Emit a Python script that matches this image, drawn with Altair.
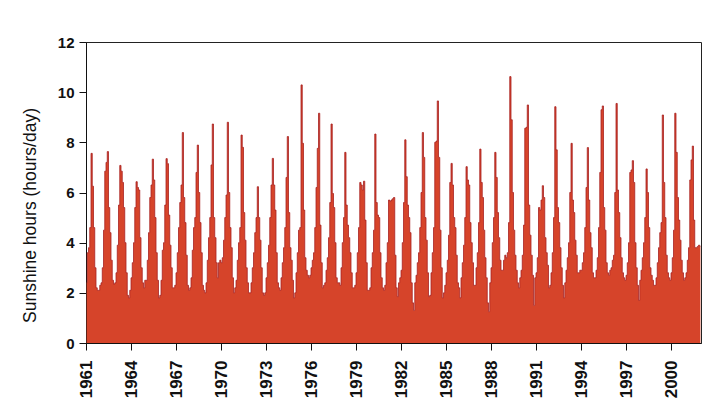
import altair as alt
import pandas as pd

# Monthly mean sunshine hours (hours/day), Jan..Dec per row
sun_1961_1970 = [
    2.4, 3.6, 3.8, 4.6, 7.56, 6.25, 4.6, 3.0, 2.2, 2.1, 2.1, 2.3,
    2.4, 3.0, 4.5, 6.85, 7.2, 7.63, 5.4, 4.4, 3.3, 2.5, 2.35, 2.4,
    2.8, 3.9, 5.5, 7.08, 6.85, 6.4, 5.4, 4.0, 2.8, 1.9, 1.8, 2.1,
    2.6, 3.2, 4.0, 5.4, 6.43, 6.2, 6.1, 4.2, 3.0, 2.4, 2.2, 2.5,
    2.5, 3.3, 4.4, 5.8, 6.3, 7.33, 6.5, 5.0, 3.6, 2.5, 1.8, 1.9,
    2.5, 3.7, 4.0, 5.5, 7.35, 7.15, 5.1, 3.9, 3.0, 2.2, 2.2, 2.3,
    2.8, 3.6, 4.6, 5.6, 6.3, 8.39, 5.8, 4.8, 3.5, 2.3, 2.1, 2.2,
    2.6, 3.7, 4.6, 5.0, 6.8, 7.89, 6.0, 4.8, 3.6, 2.3, 2.1, 2.0,
    2.4, 3.3, 4.2, 5.0, 7.1, 8.73, 5.0, 4.2, 3.2, 2.6, 3.2, 3.3,
    3.2, 3.4, 4.1, 5.0, 5.9, 8.8, 6.0, 4.6, 3.8, 2.6, 2.0, 2.2,
]
sun_1971_1980 = [
    2.5, 3.3, 4.0, 4.6, 8.29, 7.8, 5.2, 4.1, 3.0, 2.4, 2.0, 2.0,
    2.4, 3.0, 3.6, 4.4, 5.0, 6.23, 5.0, 4.1, 3.0, 2.0, 1.9, 2.0,
    2.6, 3.2, 3.9, 5.0, 6.3, 7.36, 6.3, 5.3, 3.6, 2.4, 2.2, 2.1,
    2.6, 3.2, 3.8, 4.6, 6.6, 8.23, 5.2, 3.8, 3.3, 2.5, 1.8, 2.0,
    2.8, 3.6, 4.5, 4.6, 10.29, 7.96, 5.3, 3.4, 2.9, 2.7, 2.6, 2.7,
    3.0, 3.3, 3.6, 4.6, 6.2, 7.76, 9.16, 4.7, 3.2, 2.2, 2.3, 2.4,
    2.9, 3.4, 4.2, 5.6, 8.73, 5.96, 5.4, 4.0, 2.6, 2.4, 2.4, 2.3,
    3.0, 4.0, 5.0, 7.6, 5.5, 4.7, 4.2, 3.6, 2.8, 2.2, 2.2, 2.3,
    2.8, 3.6, 4.6, 6.4, 6.3, 6.1, 6.45, 4.9, 3.2, 2.1, 2.1, 2.2,
    3.0, 3.6, 4.5, 8.33, 5.6, 5.1, 5.0, 3.6, 2.6, 2.2, 2.1, 2.3,
]
sun_1981_1990 = [
    3.2, 4.0, 5.7, 5.65, 5.7, 5.75, 5.8, 3.5, 2.2, 1.85, 2.4, 2.6,
    2.9, 4.0, 5.6, 8.1, 6.63, 5.5, 5.0, 4.4, 2.4, 1.6, 1.3, 2.4,
    2.7, 3.2, 3.6, 4.6, 6.0, 8.39, 7.4, 5.0, 4.1, 2.8, 1.85, 1.9,
    2.8, 3.6, 4.6, 8.0, 8.05, 9.65, 7.4, 4.5, 3.0, 1.8, 2.0, 2.3,
    2.8, 3.3, 4.3, 6.4, 7.16, 6.3, 5.0, 4.6, 3.5, 2.4, 2.2, 1.8,
    2.6, 3.2, 3.9, 5.0, 7.03, 6.5, 6.3, 4.8, 4.0, 3.2, 2.3, 2.3,
    3.0, 3.6, 4.8, 7.73, 6.4, 5.8, 4.5, 3.4, 2.6, 1.6, 1.25, 2.4,
    3.0, 4.0, 5.0, 7.6, 6.6, 5.2, 4.2, 3.3, 2.9, 2.9, 3.3, 3.5,
    3.4, 3.6, 4.8, 10.62, 8.9, 6.0, 4.5, 3.5, 2.9, 2.4, 2.2, 2.6,
    2.9, 3.5, 4.7, 8.56, 8.6, 9.49, 5.5, 4.3, 3.5, 2.7, 1.5, 2.6,
]
sun_1991_2001 = [
    2.8, 3.4, 5.4, 5.3, 5.7, 6.27, 5.8, 4.2, 3.6, 3.1, 2.2, 2.3,
    2.8, 3.6, 5.0, 9.42, 7.7, 5.4, 4.8, 3.8, 3.0, 2.3, 1.8, 2.4,
    2.9, 3.4, 4.0, 6.0, 7.96, 5.7, 5.2, 4.1, 3.5, 2.8, 2.8, 2.9,
    2.9, 3.2, 3.6, 4.6, 6.2, 7.79, 5.7, 4.4, 3.8, 2.8, 2.6, 2.6,
    2.9, 3.4, 4.6, 6.8, 9.3, 9.45, 5.4, 4.5, 3.2, 2.8, 2.7, 2.9,
    3.0, 3.3, 3.5, 6.0, 9.55, 6.1, 5.2, 4.2, 3.4, 2.8, 2.6, 2.5,
    2.7, 3.2, 4.0, 6.8, 6.9, 7.27, 6.4, 4.0, 3.0, 2.3, 1.7, 2.5,
    2.9, 3.4, 4.0, 5.0, 6.94, 6.0, 4.6, 3.0, 2.7, 2.5, 2.3, 2.3,
    2.6, 3.2, 3.8, 4.4, 4.8, 9.09, 6.4, 5.0, 3.5, 2.8, 2.6, 2.5,
    2.8, 3.4, 4.5, 9.16, 7.6, 5.8, 4.9, 4.1, 3.3, 2.8, 2.5, 2.6,
    2.8, 3.3, 3.8, 6.5, 7.3, 7.85, 4.9, 3.8, 3.8, 3.85, 3.9, 3.85,
]

first_year = 1961
last_year = 2001
tick_years = [1961, 1964, 1967, 1970, 1973, 1976, 1979, 1982, 1985, 1988, 1991, 1994, 1997, 2000]
y_ticks = [0, 2, 4, 6, 8, 10, 12]

values = sun_1961_1970 + sun_1971_1980 + sun_1981_1990 + sun_1991_2001
df = pd.DataFrame({
    "t": [first_year + (i + 0.5) / 12 for i in range(len(values))],
    "sun": values,
})

FONT = "Liberation Sans"

x_enc = alt.X(
    "t:Q",
    scale=alt.Scale(domain=[first_year, last_year + 1], nice=False, zero=False),
    axis=alt.Axis(
        values=tick_years, format="d", labelAngle=270, title=None, grid=False,
        tickSize=7, labelPadding=10, labelFontSize=17, labelFont=FONT,
        labelFontWeight="bold", labelColor="#111", domainColor="#111",
        tickColor="#111", labelOverlap=False, labelFlush=False,
    ),
)
y_enc = alt.Y(
    "sun:Q",
    scale=alt.Scale(domain=[0, 12], nice=False),
    axis=alt.Axis(
        values=y_ticks, title="Sunshine hours (hours/day)", grid=False,
        tickSize=7, labelPadding=5, labelFontSize=15, labelFont=FONT,
        labelFontWeight="bold", labelColor="#111", domainColor="#111",
        tickColor="#111", titleFont=FONT, titleFontSize=17.5,
        titleFontWeight="normal", titleColor="#111",
        titleX=-56, titleY=173, titleAngle=270, titleAlign="center",
        titleBaseline="middle",
    ),
)

area = alt.Chart(df).mark_area(
    interpolate="step", color="#D6442A", opacity=1
).encode(x=x_enc, y=y_enc)

edge = alt.Chart(df).mark_line(
    interpolate="step", color="#A82222", strokeWidth=0.8
).encode(x="t:Q", y="sun:Q")

chart = (
    alt.layer(area, edge)
    .properties(
        width=615,
        height=301,
        padding={"left": 78, "top": 34, "right": 11, "bottom": 60},
        autosize=alt.AutoSizeParams(type="none"),
        background="white",
    )
    .configure_view(stroke="#222", strokeWidth=1)
)

chart.save("out.html", embed_options={"renderer": "svg", "actions": False})
